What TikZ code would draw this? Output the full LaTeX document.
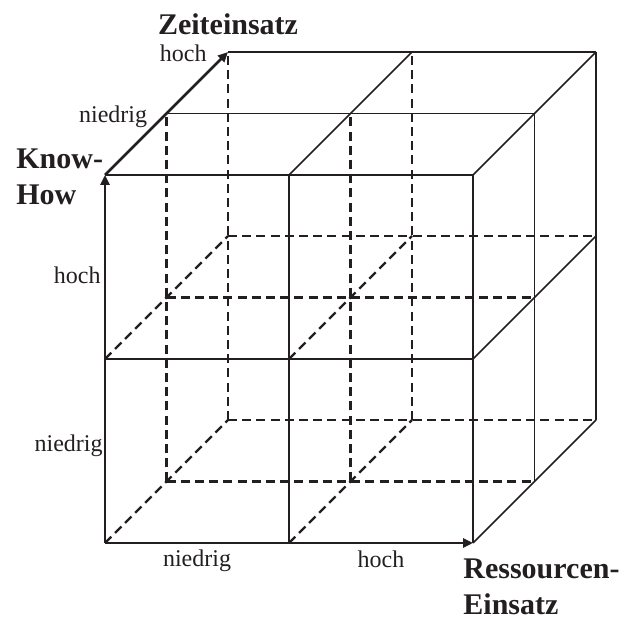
\documentclass[tikz,border=0pt]{standalone}
\usepackage{fontspec}
\setmainfont{Liberation Serif}
\usetikzlibrary{positioning,arrows.meta,calc}
\definecolor{cLine}{HTML}{231F20}
\tikzset{
  font=\fontsize{12}{14}\selectfont,
  >={Triangle[length=5pt,width=4.5pt]},
  edge/.style={draw=cLine, line width=0.8pt},
  hidden/.style={draw=cLine, line width=1.2pt, dash pattern=on 4.5pt off 2.6pt},
  axis/.style={->, draw=cLine, line width=1.3pt},
  tick/.style={font=\fontsize{12}{14}\selectfont, text=cLine, inner sep=0pt},
  title/.style={font=\bfseries\fontsize{15}{18}\selectfont, text=cLine, align=left, inner sep=0pt},
}

\begin{document}
\begin{tikzpicture}[x={(92pt,0pt)}, y={(0pt,92pt)}, z={(30.75pt,30.75pt)}]
\useasboundingbox (-52.5pt,-38pt) rectangle (260pt,271.5pt);

% ------------------------------------------------------------------ lattice points
\foreach \i in {0,1,2}
  \foreach \j in {0,1,2}
    \foreach \k in {0,1,2}
      \coordinate (p\i\j\k) at (\i,\j,\k);

% hidden edges (inside, back, bottom, left)
\foreach \j/\k in {0/1,0/2,1/1,1/2} \draw[hidden] (p0\j\k) -- (p2\j\k);
\foreach \i/\k in {0/1,0/2,1/1,1/2} \draw[hidden] (p\i0\k) -- (p\i2\k);
\foreach \i/\j in {0/0,0/1,1/0,1/1} \draw[hidden] (p\i\j0) -- (p\i\j2);

% visible edges (front, top, right)
\foreach \j/\k in {1/0,2/0,2/1,2/2} \draw[edge] (p0\j\k) -- (p2\j\k);
\foreach \i/\k in {1/0,2/0,2/1,2/2} \draw[edge] (p\i0\k) -- (p\i2\k);
\foreach \i/\j in {1/2,2/2,2/0,2/1} \draw[edge] (p\i\j0) -- (p\i\j2);

% ------------------------------------------------------------------ axes
\draw[axis] (p000) -- (p200);
\draw[axis] (p000) -- (p020);
\draw[axis] (p020) -- (p022);

\node[title, anchor=base] (zeit) at ([yshift=8.5pt]p022) {Zeiteinsatz};
\node[tick, anchor=base east] (zhoch) at ([xshift=-10.5pt,yshift=-5pt]p022) {hoch};
\node[tick, anchor=base east] (zniedrig) at ([xshift=-9.5pt,yshift=-4.5pt]p021) {niedrig};

\node[title, anchor=north west] (know) at ([xshift=-44.5pt,yshift=13.5pt]p020) {Know-\\How};
\node[tick, anchor=base east] (khoch) at ([xshift=-2pt,yshift=37.5pt]p010) {hoch};
\node[tick, anchor=base east] (kniedrig) at ([xshift=-1pt,yshift=45.5pt]p000) {niedrig};

\node[tick, anchor=base] (rniedrig) at ([yshift=-12pt]$(p000)!0.5!(p100)$) {niedrig};
\node[tick, anchor=base] (rhoch) at ([yshift=-12.5pt]$(p100)!0.5!(p200)$) {hoch};
\node[title, anchor=north west] (res) at ([xshift=-5pt,yshift=-7.5pt]p200) {Ressourcen-\\Einsatz};

\end{tikzpicture}
\end{document}
